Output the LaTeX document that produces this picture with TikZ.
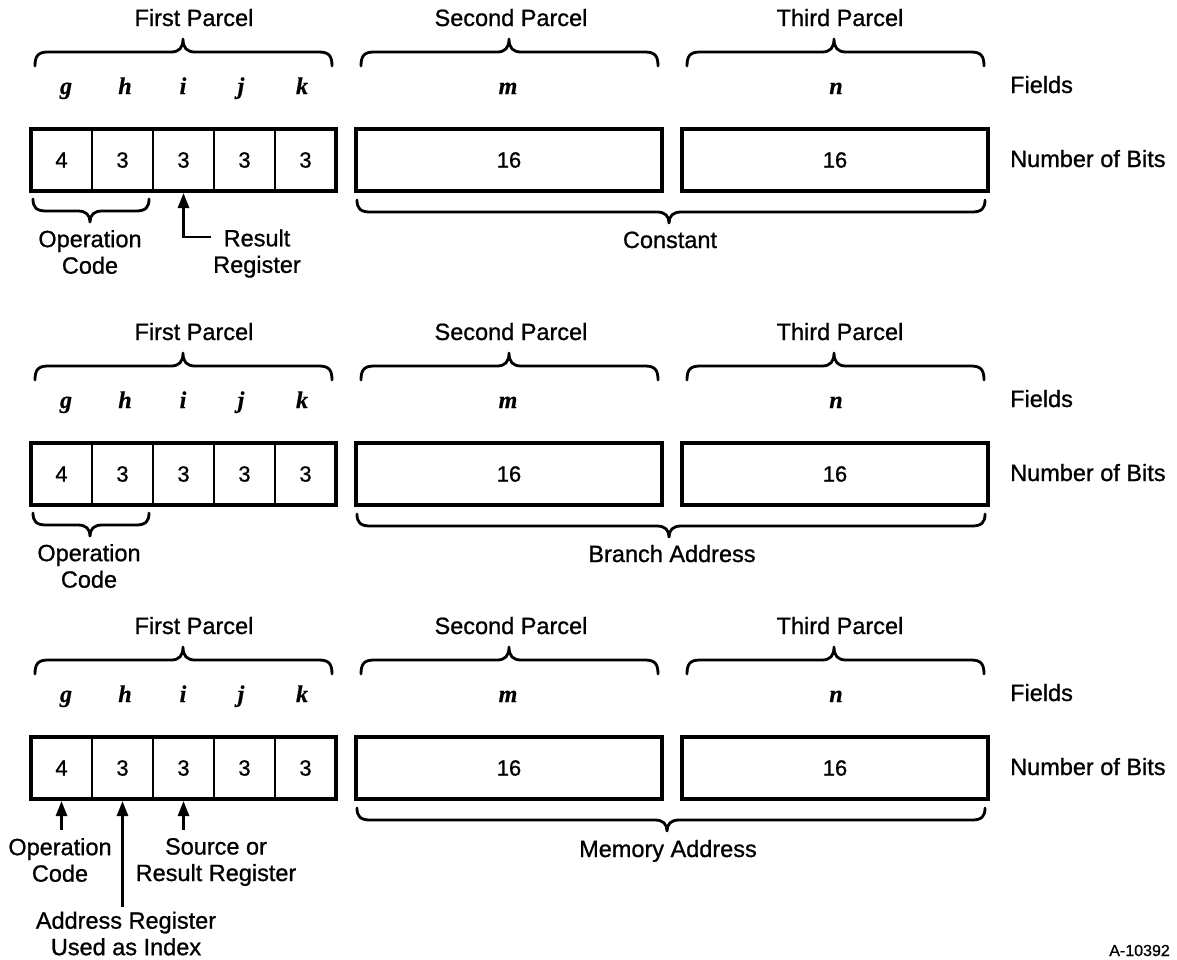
\documentclass[tikz,border=0pt]{standalone}
\usepackage{fontspec}
\setmainfont{Liberation Sans}[FakeBold=0.9]
\newfontfamily\numfamily{Liberation Sans}[FakeBold=0.9]
\newfontfamily\fieldfont{Liberation Serif}[FakeBold=0.6]
\usetikzlibrary{arrows.meta}

\newcommand\labfont{\fontsize{23.5}{26.5}\selectfont}
\newcommand\numfont{\numfamily\fontsize{22}{24}\selectfont}
\newcommand\fldfont{\fieldfont\bfseries\itshape\fontsize{24}{26}\selectfont}

\tikzset{
  brc/.style={line width=2.8pt, line cap=round, line join=round},
  cell/.style={draw, line width=2.5pt, minimum height=62pt, inner sep=0pt, outer sep=0pt, font=\numfont},
  bigbox/.style={cell, line width=4pt},
  outerbox/.style={line width=4pt},
  lab/.style={font=\labfont, inner sep=0pt},
  lab2/.style={lab, align=center},
  fld/.style={font=\fldfont, inner sep=0pt, anchor=base},
  arr/.style={line width=2.7pt, -{Triangle[length=15pt,width=11pt]}, shorten >=2pt}
}

% top brace: x1 x2 xtip yline (ends point down, tip up)
\newcommand\topbrace[4]{%
  \draw[brc] ({#1},{#4+14}) .. controls ({#1},{#4+4}) and ({#1+3},{#4}) .. ({#1+13},{#4})
    -- ({#3-12},{#4}) .. controls ({#3-4},{#4}) and ({#3},{#4-4}) .. ({#3},{#4-13})
    .. controls ({#3},{#4-4}) and ({#3+4},{#4}) .. ({#3+12},{#4})
    -- ({#2-13},{#4}) .. controls ({#2-3},{#4}) and ({#2},{#4+4}) .. ({#2},{#4+14});}
% bottom brace: x1 x2 xtip yline (ends point up, tip down)
\newcommand\botbrace[4]{%
  \draw[brc] ({#1},{#4-12}) .. controls ({#1},{#4-4}) and ({#1+3},{#4}) .. ({#1+13},{#4})
    -- ({#3-12},{#4}) .. controls ({#3-4},{#4}) and ({#3},{#4+4}) .. ({#3},{#4+11})
    .. controls ({#3},{#4+4}) and ({#3+4},{#4}) .. ({#3+12},{#4})
    -- ({#2-13},{#4}) .. controls ({#2-3},{#4}) and ({#2},{#4-4}) .. ({#2},{#4-12});}

\newcommand\parcelrow[1]{%
  \node[lab, anchor=base] (#1p1) at (194,-102) {First Parcel};
  \node[lab, anchor=base] (#1p2) at (511,-102) {Second Parcel};
  \node[lab, anchor=base] (#1p3) at (840,-102) {Third Parcel};
  \topbrace{35}{332}{183}{-76}
  \topbrace{361}{658}{509}{-76}
  \topbrace{687}{984}{834}{-76}
  \node[fld] (#1fg) at (66,-34) {g};
  \node[fld] (#1fh) at (125,-34) {h};
  \node[fld] (#1fi) at (183,-34) {i};
  \node[fld] (#1fj) at (241,-34) {j};
  \node[fld] (#1fk) at (302,-34) {k};
  \node[fld] (#1fm) at (508,-34) {m};
  \node[fld] (#1fn) at (836,-34) {n};
  \node[cell, minimum width=61pt] (#1c1) at (61.5,32) {4};
  \node[cell, minimum width=61pt] (#1c2) at (122.5,32) {3};
  \node[cell, minimum width=61pt] (#1c3) at (183.5,32) {3};
  \node[cell, minimum width=61pt] (#1c4) at (244.5,32) {3};
  \node[cell, minimum width=61pt] (#1c5) at (305.5,32) {3};
  \draw[outerbox] (#1c1.north west) rectangle (#1c5.south east);
  \node[bigbox, minimum width=306pt] (#1b2) at (509,32) {16};
  \node[bigbox, minimum width=306pt] (#1b3) at (835,32) {16};
  \node[lab, anchor=base west] (#1fl) at (1010,-35) {Fields};
  \node[lab, anchor=base west] (#1nb) at (1010,39) {Number of Bits};
}

\begin{document}
\begin{tikzpicture}[x=1pt,y=-1pt]
\fill[white] (0,0) rectangle (1177,959);
\useasboundingbox (0,0) rectangle (1177,959);

% ---------- Row 1 ----------
\begin{scope}[shift={(0,128)}]
  \parcelrow{A}
  \botbrace{33}{149}{90}{83}
  \node[lab2] (Aop) at (90,124) {Operation\\Code};
  \botbrace{357}{985}{669}{84}
  \node[lab, anchor=base] (Acon) at (670,120) {Constant};
  \node[lab2] (Ares) at (257,125.5) {Result\\Register};
  \coordinate (Aresin) at (211,109);
  \draw[arr] (Aresin) -| (Ac3.south);
\end{scope}

% ---------- Row 2 ----------
\begin{scope}[shift={(0,442)}]
  \parcelrow{B}
  \botbrace{33}{149}{90}{83}
  \node[lab2] (Bop) at (89,124) {Operation\\Code};
  \botbrace{357}{985}{669}{84}
  \node[lab, anchor=base] (Bbr) at (672,120) {Branch Address};
\end{scope}

% ---------- Row 3 ----------
\begin{scope}[shift={(0,736)}]
  \parcelrow{C}
  \botbrace{357}{985}{667}{84}
  \node[lab, anchor=base] (Cmem) at (668,121) {Memory Address};
  \node[lab2] (Cop) at (60,124) {Operation\\Code};
  \node[lab2] (Csrc) at (216,126) {Source or\\Result Register};
  \node[lab2] (Cadr) at (126,197.5) {Address Register\\Used as Index};
  \coordinate (Cg0) at (61.5,94);
  \coordinate (Ch0) at (122.5,171);
  \coordinate (Ci0) at (183.5,94);
  \draw[arr] (Cg0) -- (Cc1.south);
  \draw[arr] (Ch0) -- (Cc2.south);
  \draw[arr] (Ci0) -- (Cc3.south);
\end{scope}

\node[font=\fontsize{16}{18}\selectfont, inner sep=0pt, anchor=base east] (fig) at (1170,956) {A-10392};
\end{tikzpicture}
\end{document}
